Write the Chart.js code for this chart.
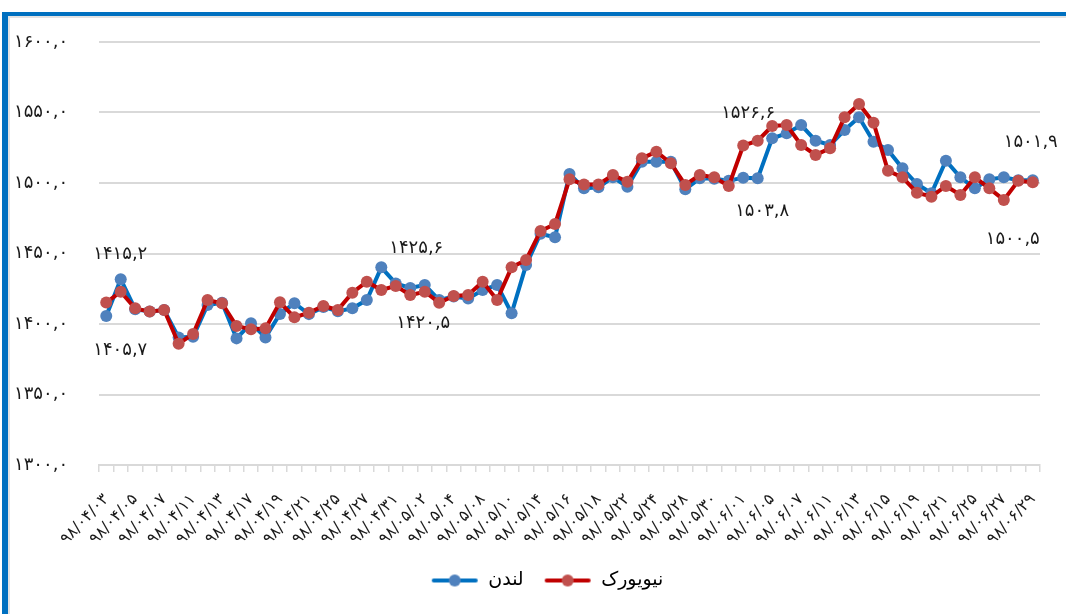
<!DOCTYPE html>
<html lang="fa">
<head>
<meta charset="utf-8">
<title>لندن و نیویورک</title>
<script src="https://cdn.jsdelivr.net/npm/chart.js@4.4.1/dist/chart.umd.min.js"></script>
<style>
    html, body { margin: 0; padding: 0; background: #fff; overflow: hidden; }
    #frame { position: absolute; left: 2px; top: 12px; width: 1200px; height: 800px;
             border-left: 6px solid #0070c0; border-top: 4px solid #0070c0; }
    #inner { position: absolute; left: 0; top: 0; right: 0; bottom: 0;
             border-left: 2px solid #e3e3e3; border-top: 2px solid #e3e3e3; }
    #chart { position: absolute; left: 0; top: 0; }
</style>
</head>
<body>
<div id="frame"><div id="inner"></div></div>
<canvas id="chart" width="1066" height="614"></canvas>
<script>
// dates (1398, Tir - Shahrivar), one per trading day
const dates = [
    '۹۸/۰۴/۰۳', '۹۸/۰۴/۰۴', '۹۸/۰۴/۰۵', '۹۸/۰۴/۰۶', '۹۸/۰۴/۰۷', '۹۸/۰۴/۱۰', '۹۸/۰۴/۱۱', '۹۸/۰۴/۱۲',
    '۹۸/۰۴/۱۳', '۹۸/۰۴/۱۴', '۹۸/۰۴/۱۷', '۹۸/۰۴/۱۸', '۹۸/۰۴/۱۹', '۹۸/۰۴/۲۰', '۹۸/۰۴/۲۱', '۹۸/۰۴/۲۴',
    '۹۸/۰۴/۲۵', '۹۸/۰۴/۲۶', '۹۸/۰۴/۲۷', '۹۸/۰۴/۲۸', '۹۸/۰۴/۳۱', '۹۸/۰۵/۰۱', '۹۸/۰۵/۰۲', '۹۸/۰۵/۰۳',
    '۹۸/۰۵/۰۴', '۹۸/۰۵/۰۷', '۹۸/۰۵/۰۸', '۹۸/۰۵/۰۹', '۹۸/۰۵/۱۰', '۹۸/۰۵/۱۱', '۹۸/۰۵/۱۴', '۹۸/۰۵/۱۵',
    '۹۸/۰۵/۱۶', '۹۸/۰۵/۱۷', '۹۸/۰۵/۱۸', '۹۸/۰۵/۲۱', '۹۸/۰۵/۲۲', '۹۸/۰۵/۲۳', '۹۸/۰۵/۲۴', '۹۸/۰۵/۲۵',
    '۹۸/۰۵/۲۸', '۹۸/۰۵/۲۹', '۹۸/۰۵/۳۰', '۹۸/۰۵/۳۱', '۹۸/۰۶/۰۱', '۹۸/۰۶/۰۴', '۹۸/۰۶/۰۵', '۹۸/۰۶/۰۶',
    '۹۸/۰۶/۰۷', '۹۸/۰۶/۰۸', '۹۸/۰۶/۱۱', '۹۸/۰۶/۱۲', '۹۸/۰۶/۱۳', '۹۸/۰۶/۱۴', '۹۸/۰۶/۱۵', '۹۸/۰۶/۱۸',
    '۹۸/۰۶/۱۹', '۹۸/۰۶/۲۰', '۹۸/۰۶/۲۱', '۹۸/۰۶/۲۲', '۹۸/۰۶/۲۵', '۹۸/۰۶/۲۶', '۹۸/۰۶/۲۷', '۹۸/۰۶/۲۸',
    '۹۸/۰۶/۲۹'
];

// London (blue)
const london = [
    1405.7, 1431.7, 1410.5, 1408.8, 1409.9, 1390.5, 1391.0, 1413.5, 1415.0, 1389.8,
    1400.5, 1390.5, 1407.1, 1414.7, 1407.0, 1412.0, 1409.0, 1411.1, 1417.0, 1440.2,
    1428.8, 1425.6, 1427.7, 1417.0, 1419.5, 1418.0, 1424.1, 1427.7, 1407.6, 1441.8,
    1464.0, 1461.5, 1506.4, 1496.2, 1497.0, 1504.0, 1497.4, 1515.1, 1515.0, 1515.0,
    1495.5, 1503.3, 1503.0, 1501.6, 1503.8, 1503.3, 1531.7, 1535.2, 1541.1, 1530.0,
    1527.0, 1537.6, 1546.6, 1529.3, 1523.4, 1510.4, 1499.3, 1492.7, 1515.8, 1504.0,
    1496.2, 1502.6, 1504.0, 1502.0, 1501.9
];

// New York (red)
const newYork = [
    1415.2, 1422.9, 1411.1, 1408.8, 1409.9, 1386.0, 1392.9, 1417.0, 1414.7, 1398.6,
    1396.2, 1396.9, 1415.4, 1404.7, 1408.0, 1412.8, 1410.0, 1422.2, 1430.0, 1424.1,
    1427.0, 1420.5, 1422.9, 1415.1, 1419.9, 1420.6, 1430.0, 1417.0, 1440.2, 1445.4,
    1466.0, 1470.9, 1502.6, 1499.0, 1499.0, 1505.7, 1500.9, 1517.5, 1522.2, 1514.0,
    1498.6, 1505.7, 1504.0, 1497.9, 1526.6, 1530.0, 1540.4, 1541.1, 1527.0, 1519.9,
    1524.6, 1546.6, 1556.0, 1542.8, 1508.7, 1504.0, 1493.1, 1490.3, 1497.9, 1491.5,
    1504.0, 1496.2, 1488.0, 1501.6, 1500.5
];

// points that carry a value label (first day, first day of each month, last day)
const labelledPoints = [0, 21, 44, 64];

(function () {
    const FONT = "'DejaVu Sans', sans-serif";
    const FA_DIGITS = '۰۱۲۳۴۵۶۷۸۹';

    // 1415.2 -> ۱۴۱۵,۲
    function toFa(num) {
        return Number(num).toFixed(1).replace('.', ',').replace(/[0-9]/g, d => FA_DIGITS[d]);
    }

    // small line + dot picture for the legend
    function legendMark(line, dot) {
        const c = document.createElement('canvas');
        c.width = 48; c.height = 14;
        const g = c.getContext('2d');
        g.strokeStyle = line; g.lineWidth = 4; g.lineCap = 'round';
        g.beginPath(); g.moveTo(3, 7); g.lineTo(45, 7); g.stroke();
        g.fillStyle = dot;
        g.beginPath(); g.arc(24, 7, 6, 0, Math.PI * 2); g.fill();
        return c;
    }

    const marks = [legendMark('#0070c0', '#4f81bd'), legendMark('#c00000', '#c0504d')];

    // label offsets from the point, per dataset
    const labelShift = [
        { 0: [14, 34], 21: [6, -40], 44: [19, 34], 64: [-2, -38] },
        { 0: [14, -48], 21: [13, 28], 44: [5, -32], 64: [-20, 57] }
    ];

    const valueLabels = {
        id: 'valueLabels',
        afterDatasetsDraw(chart) {
            const ctx = chart.ctx;
            ctx.save();
            ctx.font = '18px ' + FONT;
            ctx.fillStyle = '#1a1a1a';
            ctx.textAlign = 'center';
            ctx.textBaseline = 'middle';
            chart.data.datasets.forEach((ds, di) => {
                const meta = chart.getDatasetMeta(di);
                labelledPoints.forEach(idx => {
                    const pt = meta.data[idx];
                    const s = labelShift[di][idx];
                    ctx.fillText(toFa(ds.data[idx]), pt.x + s[0], pt.y + s[1]);
                });
            });
            ctx.restore();
        }
    };

    // legend sits a little right of the canvas centre
    const legendShift = {
        id: 'legendShift',
        afterLayout(chart) {
            chart.legend.left += 20;
            chart.legend.right += 20;
        }
    };

    new Chart(document.getElementById('chart'), {
        type: 'line',
        data: {
            labels: dates,
            datasets: [
                {
                    label: 'لندن', data: london, order: 2,
                    borderColor: '#0070c0', borderWidth: 4,
                    pointBackgroundColor: '#4f81bd', pointBorderWidth: 0, pointRadius: 6,
                    tension: 0
                },
                {
                    label: 'نیویورک', data: newYork, order: 1,
                    borderColor: '#c00000', borderWidth: 4,
                    pointBackgroundColor: '#c0504d', pointBorderWidth: 0, pointRadius: 6,
                    tension: 0
                }
            ]
        },
        options: {
            responsive: false,
            animation: false,
            layout: { padding: { left: 14, right: 26, top: 42, bottom: 14 } },
            plugins: {
                tooltip: { enabled: false },
                legend: {
                    position: 'bottom',
                    labels: {
                        usePointStyle: true, pointStyleWidth: 48, boxHeight: 14,
                        padding: 20, color: '#000',
                        font: { family: FONT, size: 19 },
                        generateLabels(chart) {
                            return chart.data.datasets.map((ds, i) => ({
                                text: ds.label, pointStyle: marks[i], datasetIndex: i,
                                fillStyle: ds.borderColor, strokeStyle: ds.borderColor,
                                lineWidth: 0, hidden: !chart.isDatasetVisible(i), fontColor: '#000'
                            }));
                        }
                    }
                }
            },
            scales: {
                x: {
                    offset: true,
                    grid: { offset: true, drawOnChartArea: false, drawTicks: true, tickLength: 7, color: '#d9d9d9', lineWidth: 1.5 },
                    border: { color: '#d9d9d9', width: 2 },
                    ticks: {
                        autoSkip: false, maxRotation: 47, minRotation: 47, padding: 18,
                        color: '#1a1a1a', font: { family: FONT, size: 16 },
                        callback(val, idx) { return idx % 2 === 0 ? this.getLabelForValue(val) : ''; }
                    },
                    afterFit(scale) {
                        scale.height = 86;
                        scale.paddingLeft = 0;
                        scale.paddingRight = 0;
                    }
                },
                y: {
                    min: 1300, max: 1600,
                    grid: { color: '#d9d9d9', lineWidth: 2, drawTicks: false },
                    border: { display: false },
                    ticks: {
                        stepSize: 50, padding: 10, crossAlign: 'far',
                        color: '#1a1a1a', font: { family: FONT, size: 18 },
                        callback: v => toFa(v)
                    },
                    afterFit(scale) { scale.width = 85; }
                }
            }
        },
        plugins: [valueLabels, legendShift]
    });
})();
</script>
</body>
</html>
